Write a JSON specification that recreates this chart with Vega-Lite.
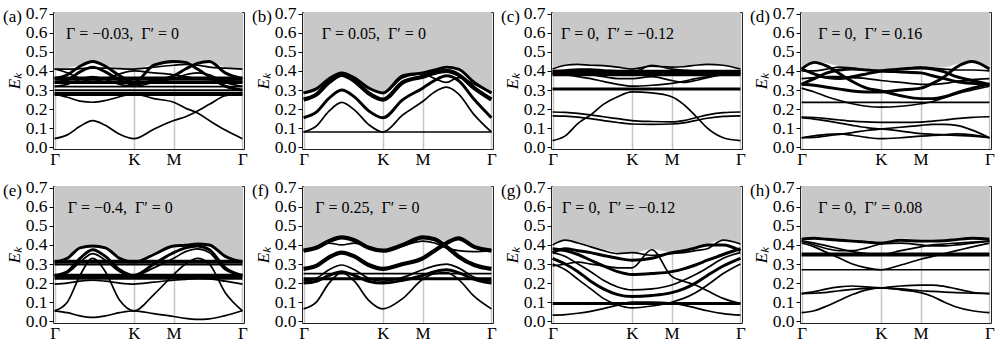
{
"$schema":"https://vega.github.io/schema/vega-lite/v6.json",
"padding":{"left":2,"top":4,"right":0,"bottom":0},
"bounds":"flush",
"spacing":{"column":58,"row":37},
"columns":4,
"data":{"values":[
{"p":"a","b":0,"x":0,"y":0.41},{"p":"a","b":0,"x":0.16,"y":0.415},{"p":"a","b":0,"x":0.32,"y":0.43},{"p":"a","b":0,"x":0.48,"y":0.45},{"p":"a","b":0,"x":0.64,"y":0.43},{"p":"a","b":0,"x":0.82,"y":0.415},{"p":"a","b":0,"x":1,"y":0.41},{"p":"a","b":0,"x":1.25,"y":0.435},{"p":"a","b":0,"x":1.5,"y":0.45},{"p":"a","b":0,"x":1.65,"y":0.445},{"p":"a","b":0,"x":1.8,"y":0.44},{"p":"a","b":0,"x":1.95,"y":0.45},{"p":"a","b":0,"x":2.15,"y":0.42},{"p":"a","b":0,"x":2.366,"y":0.41},
{"p":"a","b":1,"n":1,"x":0,"y":0.045},{"p":"a","b":1,"n":1,"x":0.16,"y":0.065},{"p":"a","b":1,"n":1,"x":0.32,"y":0.11},{"p":"a","b":1,"n":1,"x":0.48,"y":0.14},{"p":"a","b":1,"n":1,"x":0.64,"y":0.115},{"p":"a","b":1,"n":1,"x":0.82,"y":0.068},{"p":"a","b":1,"n":1,"x":1,"y":0.045},{"p":"a","b":1,"n":1,"x":1.25,"y":0.095},{"p":"a","b":1,"n":1,"x":1.5,"y":0.14},{"p":"a","b":1,"n":1,"x":1.65,"y":0.16},{"p":"a","b":1,"n":1,"x":1.8,"y":0.19},{"p":"a","b":1,"n":1,"x":1.95,"y":0.225},{"p":"a","b":1,"n":1,"x":2.15,"y":0.27},{"p":"a","b":1,"n":1,"x":2.366,"y":0.28},
{"p":"a","b":2,"n":1,"x":0,"y":0.28},{"p":"a","b":2,"n":1,"x":0.16,"y":0.262},{"p":"a","b":2,"n":1,"x":0.32,"y":0.242},{"p":"a","b":2,"n":1,"x":0.48,"y":0.236},{"p":"a","b":2,"n":1,"x":0.64,"y":0.245},{"p":"a","b":2,"n":1,"x":0.82,"y":0.265},{"p":"a","b":2,"n":1,"x":1,"y":0.28},{"p":"a","b":2,"n":1,"x":1.25,"y":0.255},{"p":"a","b":2,"n":1,"x":1.5,"y":0.236},{"p":"a","b":2,"n":1,"x":1.65,"y":0.205},{"p":"a","b":2,"n":1,"x":1.8,"y":0.18},{"p":"a","b":2,"n":1,"x":1.95,"y":0.14},{"p":"a","b":2,"n":1,"x":2.15,"y":0.09},{"p":"a","b":2,"n":1,"x":2.366,"y":0.045},
{"p":"a","b":3,"n":3,"x":0,"y":0.28},{"p":"a","b":3,"n":3,"x":2.366,"y":0.28},
{"p":"a","b":4,"n":1,"x":0,"y":0.3},{"p":"a","b":4,"n":1,"x":2.366,"y":0.3},
{"p":"a","b":5,"n":1,"x":0,"y":0.318},{"p":"a","b":5,"n":1,"x":2.366,"y":0.318},
{"p":"a","b":6,"n":2,"x":0,"y":0.34},{"p":"a","b":6,"n":2,"x":2.366,"y":0.34},
{"p":"a","b":7,"n":3,"x":0,"y":0.36},{"p":"a","b":7,"n":3,"x":2.366,"y":0.36},
{"p":"a","b":8,"n":1,"x":0,"y":0.41},{"p":"a","b":8,"n":1,"x":0.16,"y":0.41},{"p":"a","b":8,"n":1,"x":0.32,"y":0.412},{"p":"a","b":8,"n":1,"x":0.48,"y":0.415},{"p":"a","b":8,"n":1,"x":0.64,"y":0.415},{"p":"a","b":8,"n":1,"x":0.82,"y":0.412},{"p":"a","b":8,"n":1,"x":1,"y":0.41},{"p":"a","b":8,"n":1,"x":1.25,"y":0.42},{"p":"a","b":8,"n":1,"x":1.5,"y":0.43},{"p":"a","b":8,"n":1,"x":1.65,"y":0.435},{"p":"a","b":8,"n":1,"x":1.8,"y":0.43},{"p":"a","b":8,"n":1,"x":1.95,"y":0.42},{"p":"a","b":8,"n":1,"x":2.15,"y":0.415},{"p":"a","b":8,"n":1,"x":2.366,"y":0.41},
{"p":"a","b":9,"n":2,"x":0,"y":0.36},{"p":"a","b":9,"n":2,"x":0.16,"y":0.38},{"p":"a","b":9,"n":2,"x":0.32,"y":0.425},{"p":"a","b":9,"n":2,"x":0.48,"y":0.45},{"p":"a","b":9,"n":2,"x":0.64,"y":0.425},{"p":"a","b":9,"n":2,"x":0.82,"y":0.375},{"p":"a","b":9,"n":2,"x":1,"y":0.34},{"p":"a","b":9,"n":2,"x":1.25,"y":0.43},{"p":"a","b":9,"n":2,"x":1.5,"y":0.45},{"p":"a","b":9,"n":2,"x":1.65,"y":0.445},{"p":"a","b":9,"n":2,"x":1.8,"y":0.41},{"p":"a","b":9,"n":2,"x":1.95,"y":0.37},{"p":"a","b":9,"n":2,"x":2.15,"y":0.32},{"p":"a","b":9,"n":2,"x":2.366,"y":0.3},
{"p":"a","b":10,"n":2,"x":0,"y":0.34},{"p":"a","b":10,"n":2,"x":0.16,"y":0.352},{"p":"a","b":10,"n":2,"x":0.32,"y":0.395},{"p":"a","b":10,"n":2,"x":0.48,"y":0.42},{"p":"a","b":10,"n":2,"x":0.64,"y":0.395},{"p":"a","b":10,"n":2,"x":0.82,"y":0.352},{"p":"a","b":10,"n":2,"x":1,"y":0.33},{"p":"a","b":10,"n":2,"x":1.25,"y":0.35},{"p":"a","b":10,"n":2,"x":1.5,"y":0.375},{"p":"a","b":10,"n":2,"x":1.65,"y":0.41},{"p":"a","b":10,"n":2,"x":1.8,"y":0.44},{"p":"a","b":10,"n":2,"x":1.95,"y":0.45},{"p":"a","b":10,"n":2,"x":2.15,"y":0.39},{"p":"a","b":10,"n":2,"x":2.366,"y":0.36},
{"p":"a","b":11,"n":1,"x":0,"y":0.41},{"p":"a","b":11,"n":1,"x":0.16,"y":0.39},{"p":"a","b":11,"n":1,"x":0.32,"y":0.36},{"p":"a","b":11,"n":1,"x":0.48,"y":0.345},{"p":"a","b":11,"n":1,"x":0.64,"y":0.36},{"p":"a","b":11,"n":1,"x":0.82,"y":0.385},{"p":"a","b":11,"n":1,"x":1,"y":0.4},{"p":"a","b":11,"n":1,"x":1.25,"y":0.39},{"p":"a","b":11,"n":1,"x":1.5,"y":0.38},{"p":"a","b":11,"n":1,"x":1.65,"y":0.37},{"p":"a","b":11,"n":1,"x":1.8,"y":0.36},{"p":"a","b":11,"n":1,"x":1.95,"y":0.355},{"p":"a","b":11,"n":1,"x":2.15,"y":0.35},{"p":"a","b":11,"n":1,"x":2.366,"y":0.345},
{"p":"a","b":12,"n":1,"x":0,"y":0.32},{"p":"a","b":12,"n":1,"x":0.16,"y":0.33},{"p":"a","b":12,"n":1,"x":0.32,"y":0.355},{"p":"a","b":12,"n":1,"x":0.48,"y":0.37},{"p":"a","b":12,"n":1,"x":0.64,"y":0.355},{"p":"a","b":12,"n":1,"x":0.82,"y":0.33},{"p":"a","b":12,"n":1,"x":1,"y":0.32},{"p":"a","b":12,"n":1,"x":1.25,"y":0.34},{"p":"a","b":12,"n":1,"x":1.5,"y":0.36},{"p":"a","b":12,"n":1,"x":1.65,"y":0.38},{"p":"a","b":12,"n":1,"x":1.8,"y":0.39},{"p":"a","b":12,"n":1,"x":1.95,"y":0.38},{"p":"a","b":12,"n":1,"x":2.15,"y":0.34},{"p":"a","b":12,"n":1,"x":2.366,"y":0.32},

{"p":"b","b":0,"x":0,"y":0.29},{"p":"b","b":0,"x":0.16,"y":0.31},{"p":"b","b":0,"x":0.32,"y":0.362},{"p":"b","b":0,"x":0.48,"y":0.393},{"p":"b","b":0,"x":0.64,"y":0.366},{"p":"b","b":0,"x":0.82,"y":0.315},{"p":"b","b":0,"x":1,"y":0.29},{"p":"b","b":0,"x":1.25,"y":0.38},{"p":"b","b":0,"x":1.5,"y":0.395},{"p":"b","b":0,"x":1.65,"y":0.41},{"p":"b","b":0,"x":1.8,"y":0.425},{"p":"b","b":0,"x":1.95,"y":0.415},{"p":"b","b":0,"x":2.15,"y":0.345},{"p":"b","b":0,"x":2.366,"y":0.29},
{"p":"b","b":1,"n":1,"x":0,"y":0.08},{"p":"b","b":1,"n":1,"x":2.366,"y":0.08},
{"p":"b","b":2,"n":1,"x":0,"y":0.08},{"p":"b","b":2,"n":1,"x":0.16,"y":0.111},{"p":"b","b":2,"n":1,"x":0.32,"y":0.189},{"p":"b","b":2,"n":1,"x":0.48,"y":0.235},{"p":"b","b":2,"n":1,"x":0.64,"y":0.196},{"p":"b","b":2,"n":1,"x":0.82,"y":0.119},{"p":"b","b":2,"n":1,"x":1,"y":0.08},{"p":"b","b":2,"n":1,"x":1.25,"y":0.17},{"p":"b","b":2,"n":1,"x":1.5,"y":0.24},{"p":"b","b":2,"n":1,"x":1.65,"y":0.29},{"p":"b","b":2,"n":1,"x":1.8,"y":0.315},{"p":"b","b":2,"n":1,"x":1.95,"y":0.28},{"p":"b","b":2,"n":1,"x":2.15,"y":0.17},{"p":"b","b":2,"n":1,"x":2.366,"y":0.08},
{"p":"b","b":3,"n":2,"x":0,"y":0.155},{"p":"b","b":3,"n":2,"x":0.16,"y":0.184},{"p":"b","b":3,"n":2,"x":0.32,"y":0.257},{"p":"b","b":3,"n":2,"x":0.48,"y":0.3},{"p":"b","b":3,"n":2,"x":0.64,"y":0.264},{"p":"b","b":3,"n":2,"x":0.82,"y":0.191},{"p":"b","b":3,"n":2,"x":1,"y":0.155},{"p":"b","b":3,"n":2,"x":1.25,"y":0.25},{"p":"b","b":3,"n":2,"x":1.5,"y":0.31},{"p":"b","b":3,"n":2,"x":1.65,"y":0.35},{"p":"b","b":3,"n":2,"x":1.8,"y":0.375},{"p":"b","b":3,"n":2,"x":1.95,"y":0.35},{"p":"b","b":3,"n":2,"x":2.15,"y":0.25},{"p":"b","b":3,"n":2,"x":2.366,"y":0.155},
{"p":"b","b":4,"n":3,"x":0,"y":0.25},{"p":"b","b":4,"n":3,"x":0.16,"y":0.276},{"p":"b","b":4,"n":3,"x":0.32,"y":0.341},{"p":"b","b":4,"n":3,"x":0.48,"y":0.38},{"p":"b","b":4,"n":3,"x":0.64,"y":0.348},{"p":"b","b":4,"n":3,"x":0.82,"y":0.283},{"p":"b","b":4,"n":3,"x":1,"y":0.25},{"p":"b","b":4,"n":3,"x":1.25,"y":0.34},{"p":"b","b":4,"n":3,"x":1.5,"y":0.37},{"p":"b","b":4,"n":3,"x":1.65,"y":0.39},{"p":"b","b":4,"n":3,"x":1.8,"y":0.4},{"p":"b","b":4,"n":3,"x":1.95,"y":0.38},{"p":"b","b":4,"n":3,"x":2.15,"y":0.31},{"p":"b","b":4,"n":3,"x":2.366,"y":0.25},
{"p":"b","b":5,"n":2,"x":0,"y":0.285},{"p":"b","b":5,"n":2,"x":0.16,"y":0.306},{"p":"b","b":5,"n":2,"x":0.32,"y":0.359},{"p":"b","b":5,"n":2,"x":0.48,"y":0.39},{"p":"b","b":5,"n":2,"x":0.64,"y":0.364},{"p":"b","b":5,"n":2,"x":0.82,"y":0.311},{"p":"b","b":5,"n":2,"x":1,"y":0.285},{"p":"b","b":5,"n":2,"x":1.25,"y":0.375},{"p":"b","b":5,"n":2,"x":1.5,"y":0.39},{"p":"b","b":5,"n":2,"x":1.65,"y":0.405},{"p":"b","b":5,"n":2,"x":1.8,"y":0.42},{"p":"b","b":5,"n":2,"x":1.95,"y":0.41},{"p":"b","b":5,"n":2,"x":2.15,"y":0.34},{"p":"b","b":5,"n":2,"x":2.366,"y":0.285},
{"p":"b","b":6,"n":1,"x":0,"y":0.285},{"p":"b","b":6,"n":1,"x":0.16,"y":0.306},{"p":"b","b":6,"n":1,"x":0.32,"y":0.359},{"p":"b","b":6,"n":1,"x":0.48,"y":0.39},{"p":"b","b":6,"n":1,"x":0.64,"y":0.364},{"p":"b","b":6,"n":1,"x":0.82,"y":0.311},{"p":"b","b":6,"n":1,"x":1,"y":0.285},{"p":"b","b":6,"n":1,"x":1.25,"y":0.365},{"p":"b","b":6,"n":1,"x":1.5,"y":0.385},{"p":"b","b":6,"n":1,"x":1.65,"y":0.36},{"p":"b","b":6,"n":1,"x":1.8,"y":0.34},{"p":"b","b":6,"n":1,"x":1.95,"y":0.365},{"p":"b","b":6,"n":1,"x":2.15,"y":0.33},{"p":"b","b":6,"n":1,"x":2.366,"y":0.285},

{"p":"c","b":0,"x":0,"y":0.41},{"p":"c","b":0,"x":0.16,"y":0.432},{"p":"c","b":0,"x":0.32,"y":0.438},{"p":"c","b":0,"x":0.48,"y":0.433},{"p":"c","b":0,"x":0.64,"y":0.43},{"p":"c","b":0,"x":0.82,"y":0.42},{"p":"c","b":0,"x":1,"y":0.41},{"p":"c","b":0,"x":1.25,"y":0.432},{"p":"c","b":0,"x":1.5,"y":0.425},{"p":"c","b":0,"x":1.65,"y":0.425},{"p":"c","b":0,"x":1.8,"y":0.432},{"p":"c","b":0,"x":1.95,"y":0.437},{"p":"c","b":0,"x":2.15,"y":0.432},{"p":"c","b":0,"x":2.366,"y":0.41},
{"p":"c","b":1,"n":1,"x":0,"y":0.035},{"p":"c","b":1,"n":1,"x":0.16,"y":0.06},{"p":"c","b":1,"n":1,"x":0.32,"y":0.125},{"p":"c","b":1,"n":1,"x":0.48,"y":0.17},{"p":"c","b":1,"n":1,"x":0.64,"y":0.225},{"p":"c","b":1,"n":1,"x":0.82,"y":0.265},{"p":"c","b":1,"n":1,"x":1,"y":0.29},{"p":"c","b":1,"n":1,"x":1.25,"y":0.285},{"p":"c","b":1,"n":1,"x":1.5,"y":0.265},{"p":"c","b":1,"n":1,"x":1.65,"y":0.225},{"p":"c","b":1,"n":1,"x":1.8,"y":0.165},{"p":"c","b":1,"n":1,"x":1.95,"y":0.1},{"p":"c","b":1,"n":1,"x":2.15,"y":0.05},{"p":"c","b":1,"n":1,"x":2.366,"y":0.035},
{"p":"c","b":2,"n":1,"x":0,"y":0.185},{"p":"c","b":2,"n":1,"x":0.16,"y":0.183},{"p":"c","b":2,"n":1,"x":0.32,"y":0.178},{"p":"c","b":2,"n":1,"x":0.48,"y":0.17},{"p":"c","b":2,"n":1,"x":0.64,"y":0.16},{"p":"c","b":2,"n":1,"x":0.82,"y":0.15},{"p":"c","b":2,"n":1,"x":1,"y":0.14},{"p":"c","b":2,"n":1,"x":1.25,"y":0.135},{"p":"c","b":2,"n":1,"x":1.5,"y":0.133},{"p":"c","b":2,"n":1,"x":1.65,"y":0.14},{"p":"c","b":2,"n":1,"x":1.8,"y":0.155},{"p":"c","b":2,"n":1,"x":1.95,"y":0.17},{"p":"c","b":2,"n":1,"x":2.15,"y":0.182},{"p":"c","b":2,"n":1,"x":2.366,"y":0.185},
{"p":"c","b":3,"n":1,"x":0,"y":0.165},{"p":"c","b":3,"n":1,"x":0.16,"y":0.163},{"p":"c","b":3,"n":1,"x":0.32,"y":0.158},{"p":"c","b":3,"n":1,"x":0.48,"y":0.15},{"p":"c","b":3,"n":1,"x":0.64,"y":0.14},{"p":"c","b":3,"n":1,"x":0.82,"y":0.13},{"p":"c","b":3,"n":1,"x":1,"y":0.122},{"p":"c","b":3,"n":1,"x":1.25,"y":0.12},{"p":"c","b":3,"n":1,"x":1.5,"y":0.122},{"p":"c","b":3,"n":1,"x":1.65,"y":0.128},{"p":"c","b":3,"n":1,"x":1.8,"y":0.14},{"p":"c","b":3,"n":1,"x":1.95,"y":0.152},{"p":"c","b":3,"n":1,"x":2.15,"y":0.162},{"p":"c","b":3,"n":1,"x":2.366,"y":0.165},
{"p":"c","b":4,"n":2,"x":0,"y":0.305},{"p":"c","b":4,"n":2,"x":2.366,"y":0.305},
{"p":"c","b":5,"n":1,"x":0,"y":0.41},{"p":"c","b":5,"n":1,"x":0.16,"y":0.43},{"p":"c","b":5,"n":1,"x":0.32,"y":0.435},{"p":"c","b":5,"n":1,"x":0.48,"y":0.43},{"p":"c","b":5,"n":1,"x":0.64,"y":0.428},{"p":"c","b":5,"n":1,"x":0.82,"y":0.42},{"p":"c","b":5,"n":1,"x":1,"y":0.41},{"p":"c","b":5,"n":1,"x":1.25,"y":0.425},{"p":"c","b":5,"n":1,"x":1.5,"y":0.42},{"p":"c","b":5,"n":1,"x":1.65,"y":0.422},{"p":"c","b":5,"n":1,"x":1.8,"y":0.43},{"p":"c","b":5,"n":1,"x":1.95,"y":0.435},{"p":"c","b":5,"n":1,"x":2.15,"y":0.43},{"p":"c","b":5,"n":1,"x":2.366,"y":0.41},
{"p":"c","b":6,"n":3,"x":0,"y":0.395},{"p":"c","b":6,"n":3,"x":2.366,"y":0.395},
{"p":"c","b":7,"n":2,"x":0,"y":0.38},{"p":"c","b":7,"n":2,"x":2.366,"y":0.38},
{"p":"c","b":8,"n":1,"x":0,"y":0.385},{"p":"c","b":8,"n":1,"x":0.16,"y":0.38},{"p":"c","b":8,"n":1,"x":0.32,"y":0.37},{"p":"c","b":8,"n":1,"x":0.48,"y":0.36},{"p":"c","b":8,"n":1,"x":0.64,"y":0.345},{"p":"c","b":8,"n":1,"x":0.82,"y":0.33},{"p":"c","b":8,"n":1,"x":1,"y":0.32},{"p":"c","b":8,"n":1,"x":1.25,"y":0.325},{"p":"c","b":8,"n":1,"x":1.5,"y":0.335},{"p":"c","b":8,"n":1,"x":1.65,"y":0.345},{"p":"c","b":8,"n":1,"x":1.8,"y":0.36},{"p":"c","b":8,"n":1,"x":1.95,"y":0.37},{"p":"c","b":8,"n":1,"x":2.15,"y":0.38},{"p":"c","b":8,"n":1,"x":2.366,"y":0.385},
{"p":"c","b":9,"n":1,"x":0,"y":0.39},{"p":"c","b":9,"n":1,"x":0.16,"y":0.39},{"p":"c","b":9,"n":1,"x":0.32,"y":0.385},{"p":"c","b":9,"n":1,"x":0.48,"y":0.38},{"p":"c","b":9,"n":1,"x":0.64,"y":0.37},{"p":"c","b":9,"n":1,"x":0.82,"y":0.36},{"p":"c","b":9,"n":1,"x":1,"y":0.36},{"p":"c","b":9,"n":1,"x":1.25,"y":0.37},{"p":"c","b":9,"n":1,"x":1.5,"y":0.35},{"p":"c","b":9,"n":1,"x":1.65,"y":0.34},{"p":"c","b":9,"n":1,"x":1.8,"y":0.35},{"p":"c","b":9,"n":1,"x":1.95,"y":0.365},{"p":"c","b":9,"n":1,"x":2.15,"y":0.38},{"p":"c","b":9,"n":1,"x":2.366,"y":0.39},
{"p":"c","b":10,"n":1,"x":0,"y":0.4},{"p":"c","b":10,"n":1,"x":0.16,"y":0.405},{"p":"c","b":10,"n":1,"x":0.32,"y":0.41},{"p":"c","b":10,"n":1,"x":0.48,"y":0.41},{"p":"c","b":10,"n":1,"x":0.64,"y":0.405},{"p":"c","b":10,"n":1,"x":0.82,"y":0.4},{"p":"c","b":10,"n":1,"x":1,"y":0.39},{"p":"c","b":10,"n":1,"x":1.25,"y":0.43},{"p":"c","b":10,"n":1,"x":1.5,"y":0.41},{"p":"c","b":10,"n":1,"x":1.65,"y":0.405},{"p":"c","b":10,"n":1,"x":1.8,"y":0.4},{"p":"c","b":10,"n":1,"x":1.95,"y":0.4},{"p":"c","b":10,"n":1,"x":2.15,"y":0.4},{"p":"c","b":10,"n":1,"x":2.366,"y":0.4},

{"p":"d","b":0,"x":0,"y":0.41},{"p":"d","b":0,"x":0.16,"y":0.445},{"p":"d","b":0,"x":0.32,"y":0.44},{"p":"d","b":0,"x":0.48,"y":0.425},{"p":"d","b":0,"x":0.64,"y":0.42},{"p":"d","b":0,"x":0.82,"y":0.41},{"p":"d","b":0,"x":1,"y":0.405},{"p":"d","b":0,"x":1.25,"y":0.415},{"p":"d","b":0,"x":1.5,"y":0.425},{"p":"d","b":0,"x":1.65,"y":0.42},{"p":"d","b":0,"x":1.8,"y":0.42},{"p":"d","b":0,"x":1.95,"y":0.435},{"p":"d","b":0,"x":2.15,"y":0.455},{"p":"d","b":0,"x":2.366,"y":0.41},
{"p":"d","b":1,"n":1,"x":0,"y":0.05},{"p":"d","b":1,"n":1,"x":0.16,"y":0.06},{"p":"d","b":1,"n":1,"x":0.32,"y":0.068},{"p":"d","b":1,"n":1,"x":0.48,"y":0.07},{"p":"d","b":1,"n":1,"x":0.64,"y":0.063},{"p":"d","b":1,"n":1,"x":0.82,"y":0.052},{"p":"d","b":1,"n":1,"x":1,"y":0.045},{"p":"d","b":1,"n":1,"x":1.25,"y":0.05},{"p":"d","b":1,"n":1,"x":1.5,"y":0.058},{"p":"d","b":1,"n":1,"x":1.65,"y":0.062},{"p":"d","b":1,"n":1,"x":1.8,"y":0.066},{"p":"d","b":1,"n":1,"x":1.95,"y":0.07},{"p":"d","b":1,"n":1,"x":2.15,"y":0.065},{"p":"d","b":1,"n":1,"x":2.366,"y":0.05},
{"p":"d","b":2,"n":1,"x":0,"y":0.05},{"p":"d","b":2,"n":1,"x":0.16,"y":0.052},{"p":"d","b":2,"n":1,"x":0.32,"y":0.06},{"p":"d","b":2,"n":1,"x":0.48,"y":0.068},{"p":"d","b":2,"n":1,"x":0.64,"y":0.077},{"p":"d","b":2,"n":1,"x":0.82,"y":0.088},{"p":"d","b":2,"n":1,"x":1,"y":0.096},{"p":"d","b":2,"n":1,"x":1.25,"y":0.105},{"p":"d","b":2,"n":1,"x":1.5,"y":0.115},{"p":"d","b":2,"n":1,"x":1.65,"y":0.12},{"p":"d","b":2,"n":1,"x":1.8,"y":0.12},{"p":"d","b":2,"n":1,"x":1.95,"y":0.115},{"p":"d","b":2,"n":1,"x":2.15,"y":0.09},{"p":"d","b":2,"n":1,"x":2.366,"y":0.05},
{"p":"d","b":3,"n":1,"x":0,"y":0.155},{"p":"d","b":3,"n":1,"x":0.16,"y":0.148},{"p":"d","b":3,"n":1,"x":0.32,"y":0.138},{"p":"d","b":3,"n":1,"x":0.48,"y":0.127},{"p":"d","b":3,"n":1,"x":0.64,"y":0.115},{"p":"d","b":3,"n":1,"x":0.82,"y":0.103},{"p":"d","b":3,"n":1,"x":1,"y":0.096},{"p":"d","b":3,"n":1,"x":1.25,"y":0.085},{"p":"d","b":3,"n":1,"x":1.5,"y":0.072},{"p":"d","b":3,"n":1,"x":1.65,"y":0.068},{"p":"d","b":3,"n":1,"x":1.8,"y":0.065},{"p":"d","b":3,"n":1,"x":1.95,"y":0.062},{"p":"d","b":3,"n":1,"x":2.15,"y":0.058},{"p":"d","b":3,"n":1,"x":2.366,"y":0.05},
{"p":"d","b":4,"n":1,"x":0,"y":0.158},{"p":"d","b":4,"n":1,"x":0.16,"y":0.156},{"p":"d","b":4,"n":1,"x":0.32,"y":0.15},{"p":"d","b":4,"n":1,"x":0.48,"y":0.143},{"p":"d","b":4,"n":1,"x":0.64,"y":0.137},{"p":"d","b":4,"n":1,"x":0.82,"y":0.133},{"p":"d","b":4,"n":1,"x":1,"y":0.131},{"p":"d","b":4,"n":1,"x":1.25,"y":0.131},{"p":"d","b":4,"n":1,"x":1.5,"y":0.132},{"p":"d","b":4,"n":1,"x":1.65,"y":0.137},{"p":"d","b":4,"n":1,"x":1.8,"y":0.143},{"p":"d","b":4,"n":1,"x":1.95,"y":0.15},{"p":"d","b":4,"n":1,"x":2.15,"y":0.157},{"p":"d","b":4,"n":1,"x":2.366,"y":0.16},
{"p":"d","b":5,"n":1,"x":0,"y":0.235},{"p":"d","b":5,"n":1,"x":2.366,"y":0.235},
{"p":"d","b":6,"n":1,"x":0,"y":0.31},{"p":"d","b":6,"n":1,"x":0.16,"y":0.29},{"p":"d","b":6,"n":1,"x":0.32,"y":0.265},{"p":"d","b":6,"n":1,"x":0.48,"y":0.245},{"p":"d","b":6,"n":1,"x":0.64,"y":0.228},{"p":"d","b":6,"n":1,"x":0.82,"y":0.215},{"p":"d","b":6,"n":1,"x":1,"y":0.21},{"p":"d","b":6,"n":1,"x":1.25,"y":0.215},{"p":"d","b":6,"n":1,"x":1.5,"y":0.228},{"p":"d","b":6,"n":1,"x":1.65,"y":0.24},{"p":"d","b":6,"n":1,"x":1.8,"y":0.26},{"p":"d","b":6,"n":1,"x":1.95,"y":0.28},{"p":"d","b":6,"n":1,"x":2.15,"y":0.3},{"p":"d","b":6,"n":1,"x":2.366,"y":0.32},
{"p":"d","b":7,"n":2,"x":0,"y":0.41},{"p":"d","b":7,"n":2,"x":0.16,"y":0.445},{"p":"d","b":7,"n":2,"x":0.32,"y":0.425},{"p":"d","b":7,"n":2,"x":0.48,"y":0.385},{"p":"d","b":7,"n":2,"x":0.64,"y":0.345},{"p":"d","b":7,"n":2,"x":0.82,"y":0.31},{"p":"d","b":7,"n":2,"x":1,"y":0.295},{"p":"d","b":7,"n":2,"x":1.25,"y":0.27},{"p":"d","b":7,"n":2,"x":1.5,"y":0.255},{"p":"d","b":7,"n":2,"x":1.65,"y":0.255},{"p":"d","b":7,"n":2,"x":1.8,"y":0.265},{"p":"d","b":7,"n":2,"x":1.95,"y":0.285},{"p":"d","b":7,"n":2,"x":2.15,"y":0.31},{"p":"d","b":7,"n":2,"x":2.366,"y":0.33},
{"p":"d","b":8,"n":2,"x":0,"y":0.33},{"p":"d","b":8,"n":2,"x":0.16,"y":0.325},{"p":"d","b":8,"n":2,"x":0.32,"y":0.315},{"p":"d","b":8,"n":2,"x":0.48,"y":0.305},{"p":"d","b":8,"n":2,"x":0.64,"y":0.295},{"p":"d","b":8,"n":2,"x":0.82,"y":0.29},{"p":"d","b":8,"n":2,"x":1,"y":0.29},{"p":"d","b":8,"n":2,"x":1.25,"y":0.3},{"p":"d","b":8,"n":2,"x":1.5,"y":0.31},{"p":"d","b":8,"n":2,"x":1.65,"y":0.335},{"p":"d","b":8,"n":2,"x":1.8,"y":0.37},{"p":"d","b":8,"n":2,"x":1.95,"y":0.42},{"p":"d","b":8,"n":2,"x":2.15,"y":0.45},{"p":"d","b":8,"n":2,"x":2.366,"y":0.41},
{"p":"d","b":9,"n":2,"x":0,"y":0.33},{"p":"d","b":9,"n":2,"x":0.16,"y":0.36},{"p":"d","b":9,"n":2,"x":0.32,"y":0.39},{"p":"d","b":9,"n":2,"x":0.48,"y":0.405},{"p":"d","b":9,"n":2,"x":0.64,"y":0.41},{"p":"d","b":9,"n":2,"x":0.82,"y":0.405},{"p":"d","b":9,"n":2,"x":1,"y":0.4},{"p":"d","b":9,"n":2,"x":1.25,"y":0.395},{"p":"d","b":9,"n":2,"x":1.5,"y":0.39},{"p":"d","b":9,"n":2,"x":1.65,"y":0.375},{"p":"d","b":9,"n":2,"x":1.8,"y":0.36},{"p":"d","b":9,"n":2,"x":1.95,"y":0.345},{"p":"d","b":9,"n":2,"x":2.15,"y":0.335},{"p":"d","b":9,"n":2,"x":2.366,"y":0.33},
{"p":"d","b":10,"n":2,"x":0,"y":0.41},{"p":"d","b":10,"n":2,"x":0.16,"y":0.385},{"p":"d","b":10,"n":2,"x":0.32,"y":0.365},{"p":"d","b":10,"n":2,"x":0.48,"y":0.36},{"p":"d","b":10,"n":2,"x":0.64,"y":0.37},{"p":"d","b":10,"n":2,"x":0.82,"y":0.385},{"p":"d","b":10,"n":2,"x":1,"y":0.4},{"p":"d","b":10,"n":2,"x":1.25,"y":0.41},{"p":"d","b":10,"n":2,"x":1.5,"y":0.415},{"p":"d","b":10,"n":2,"x":1.65,"y":0.41},{"p":"d","b":10,"n":2,"x":1.8,"y":0.395},{"p":"d","b":10,"n":2,"x":1.95,"y":0.37},{"p":"d","b":10,"n":2,"x":2.15,"y":0.35},{"p":"d","b":10,"n":2,"x":2.366,"y":0.33},
{"p":"d","b":11,"n":1,"x":0,"y":0.36},{"p":"d","b":11,"n":1,"x":0.16,"y":0.365},{"p":"d","b":11,"n":1,"x":0.32,"y":0.37},{"p":"d","b":11,"n":1,"x":0.48,"y":0.37},{"p":"d","b":11,"n":1,"x":0.64,"y":0.365},{"p":"d","b":11,"n":1,"x":0.82,"y":0.36},{"p":"d","b":11,"n":1,"x":1,"y":0.35},{"p":"d","b":11,"n":1,"x":1.25,"y":0.34},{"p":"d","b":11,"n":1,"x":1.5,"y":0.33},{"p":"d","b":11,"n":1,"x":1.65,"y":0.33},{"p":"d","b":11,"n":1,"x":1.8,"y":0.335},{"p":"d","b":11,"n":1,"x":1.95,"y":0.345},{"p":"d","b":11,"n":1,"x":2.15,"y":0.355},{"p":"d","b":11,"n":1,"x":2.366,"y":0.36},
{"p":"d","b":12,"n":1,"x":0,"y":0.4},{"p":"d","b":12,"n":1,"x":0.16,"y":0.4},{"p":"d","b":12,"n":1,"x":0.32,"y":0.41},{"p":"d","b":12,"n":1,"x":0.48,"y":0.42},{"p":"d","b":12,"n":1,"x":0.64,"y":0.415},{"p":"d","b":12,"n":1,"x":0.82,"y":0.405},{"p":"d","b":12,"n":1,"x":1,"y":0.4},{"p":"d","b":12,"n":1,"x":1.25,"y":0.41},{"p":"d","b":12,"n":1,"x":1.5,"y":0.42},{"p":"d","b":12,"n":1,"x":1.65,"y":0.415},{"p":"d","b":12,"n":1,"x":1.8,"y":0.41},{"p":"d","b":12,"n":1,"x":1.95,"y":0.405},{"p":"d","b":12,"n":1,"x":2.15,"y":0.405},{"p":"d","b":12,"n":1,"x":2.366,"y":0.4},

{"p":"e","b":0,"x":0,"y":0.315},{"p":"e","b":0,"x":0.16,"y":0.34},{"p":"e","b":0,"x":0.32,"y":0.39},{"p":"e","b":0,"x":0.48,"y":0.4},{"p":"e","b":0,"x":0.64,"y":0.39},{"p":"e","b":0,"x":0.82,"y":0.34},{"p":"e","b":0,"x":1,"y":0.315},{"p":"e","b":0,"x":1.25,"y":0.36},{"p":"e","b":0,"x":1.5,"y":0.4},{"p":"e","b":0,"x":1.65,"y":0.403},{"p":"e","b":0,"x":1.8,"y":0.408},{"p":"e","b":0,"x":1.95,"y":0.403},{"p":"e","b":0,"x":2.15,"y":0.345},{"p":"e","b":0,"x":2.366,"y":0.315},
{"p":"e","b":1,"n":1,"x":0,"y":0.055},{"p":"e","b":1,"n":1,"x":0.16,"y":0.045},{"p":"e","b":1,"n":1,"x":0.32,"y":0.028},{"p":"e","b":1,"n":1,"x":0.48,"y":0.02},{"p":"e","b":1,"n":1,"x":0.64,"y":0.028},{"p":"e","b":1,"n":1,"x":0.82,"y":0.045},{"p":"e","b":1,"n":1,"x":1,"y":0.055},{"p":"e","b":1,"n":1,"x":1.25,"y":0.04},{"p":"e","b":1,"n":1,"x":1.5,"y":0.025},{"p":"e","b":1,"n":1,"x":1.65,"y":0.015},{"p":"e","b":1,"n":1,"x":1.8,"y":0.01},{"p":"e","b":1,"n":1,"x":1.95,"y":0.013},{"p":"e","b":1,"n":1,"x":2.15,"y":0.03},{"p":"e","b":1,"n":1,"x":2.366,"y":0.055},
{"p":"e","b":2,"n":1,"x":0,"y":0.055},{"p":"e","b":2,"n":1,"x":0.16,"y":0.1},{"p":"e","b":2,"n":1,"x":0.32,"y":0.24},{"p":"e","b":2,"n":1,"x":0.48,"y":0.33},{"p":"e","b":2,"n":1,"x":0.64,"y":0.26},{"p":"e","b":2,"n":1,"x":0.82,"y":0.11},{"p":"e","b":2,"n":1,"x":1,"y":0.055},{"p":"e","b":2,"n":1,"x":1.25,"y":0.14},{"p":"e","b":2,"n":1,"x":1.5,"y":0.245},{"p":"e","b":2,"n":1,"x":1.65,"y":0.3},{"p":"e","b":2,"n":1,"x":1.8,"y":0.33},{"p":"e","b":2,"n":1,"x":1.95,"y":0.3},{"p":"e","b":2,"n":1,"x":2.15,"y":0.15},{"p":"e","b":2,"n":1,"x":2.366,"y":0.055},
{"p":"e","b":3,"n":1,"x":0,"y":0.195},{"p":"e","b":3,"n":1,"x":0.16,"y":0.2},{"p":"e","b":3,"n":1,"x":0.32,"y":0.21},{"p":"e","b":3,"n":1,"x":0.48,"y":0.215},{"p":"e","b":3,"n":1,"x":0.64,"y":0.21},{"p":"e","b":3,"n":1,"x":0.82,"y":0.2},{"p":"e","b":3,"n":1,"x":1,"y":0.195},{"p":"e","b":3,"n":1,"x":1.25,"y":0.205},{"p":"e","b":3,"n":1,"x":1.5,"y":0.215},{"p":"e","b":3,"n":1,"x":1.65,"y":0.22},{"p":"e","b":3,"n":1,"x":1.8,"y":0.225},{"p":"e","b":3,"n":1,"x":1.95,"y":0.222},{"p":"e","b":3,"n":1,"x":2.15,"y":0.21},{"p":"e","b":3,"n":1,"x":2.366,"y":0.195},
{"p":"e","b":4,"n":1,"x":0,"y":0.222},{"p":"e","b":4,"n":1,"x":2.366,"y":0.222},
{"p":"e","b":5,"n":3,"x":0,"y":0.238},{"p":"e","b":5,"n":3,"x":2.366,"y":0.238},
{"p":"e","b":6,"n":3,"x":0,"y":0.312},{"p":"e","b":6,"n":3,"x":2.366,"y":0.312},
{"p":"e","b":7,"n":1,"x":0,"y":0.297},{"p":"e","b":7,"n":1,"x":2.366,"y":0.297},
{"p":"e","b":8,"n":2,"x":0,"y":0.31},{"p":"e","b":8,"n":2,"x":0.16,"y":0.33},{"p":"e","b":8,"n":2,"x":0.32,"y":0.385},{"p":"e","b":8,"n":2,"x":0.48,"y":0.395},{"p":"e","b":8,"n":2,"x":0.64,"y":0.385},{"p":"e","b":8,"n":2,"x":0.82,"y":0.33},{"p":"e","b":8,"n":2,"x":1,"y":0.31},{"p":"e","b":8,"n":2,"x":1.25,"y":0.35},{"p":"e","b":8,"n":2,"x":1.5,"y":0.395},{"p":"e","b":8,"n":2,"x":1.65,"y":0.398},{"p":"e","b":8,"n":2,"x":1.8,"y":0.405},{"p":"e","b":8,"n":2,"x":1.95,"y":0.4},{"p":"e","b":8,"n":2,"x":2.15,"y":0.34},{"p":"e","b":8,"n":2,"x":2.366,"y":0.31},
{"p":"e","b":9,"n":2,"x":0,"y":0.24},{"p":"e","b":9,"n":2,"x":0.16,"y":0.26},{"p":"e","b":9,"n":2,"x":0.32,"y":0.33},{"p":"e","b":9,"n":2,"x":0.48,"y":0.375},{"p":"e","b":9,"n":2,"x":0.64,"y":0.34},{"p":"e","b":9,"n":2,"x":0.82,"y":0.27},{"p":"e","b":9,"n":2,"x":1,"y":0.24},{"p":"e","b":9,"n":2,"x":1.25,"y":0.3},{"p":"e","b":9,"n":2,"x":1.5,"y":0.36},{"p":"e","b":9,"n":2,"x":1.65,"y":0.385},{"p":"e","b":9,"n":2,"x":1.8,"y":0.395},{"p":"e","b":9,"n":2,"x":1.95,"y":0.375},{"p":"e","b":9,"n":2,"x":2.15,"y":0.28},{"p":"e","b":9,"n":2,"x":2.366,"y":0.24},
{"p":"e","b":10,"n":1,"x":0,"y":0.24},{"p":"e","b":10,"n":1,"x":0.16,"y":0.255},{"p":"e","b":10,"n":1,"x":0.32,"y":0.31},{"p":"e","b":10,"n":1,"x":0.48,"y":0.355},{"p":"e","b":10,"n":1,"x":0.64,"y":0.32},{"p":"e","b":10,"n":1,"x":0.82,"y":0.26},{"p":"e","b":10,"n":1,"x":1,"y":0.24},{"p":"e","b":10,"n":1,"x":1.25,"y":0.28},{"p":"e","b":10,"n":1,"x":1.5,"y":0.33},{"p":"e","b":10,"n":1,"x":1.65,"y":0.365},{"p":"e","b":10,"n":1,"x":1.8,"y":0.38},{"p":"e","b":10,"n":1,"x":1.95,"y":0.36},{"p":"e","b":10,"n":1,"x":2.15,"y":0.27},{"p":"e","b":10,"n":1,"x":2.366,"y":0.24},

{"p":"f","b":0,"x":0,"y":0.37},{"p":"f","b":0,"x":0.16,"y":0.39},{"p":"f","b":0,"x":0.32,"y":0.425},{"p":"f","b":0,"x":0.48,"y":0.445},{"p":"f","b":0,"x":0.64,"y":0.43},{"p":"f","b":0,"x":0.82,"y":0.39},{"p":"f","b":0,"x":1,"y":0.37},{"p":"f","b":0,"x":1.25,"y":0.405},{"p":"f","b":0,"x":1.5,"y":0.445},{"p":"f","b":0,"x":1.65,"y":0.435},{"p":"f","b":0,"x":1.8,"y":0.42},{"p":"f","b":0,"x":1.95,"y":0.44},{"p":"f","b":0,"x":2.15,"y":0.4},{"p":"f","b":0,"x":2.366,"y":0.37},
{"p":"f","b":1,"n":1,"x":0,"y":0.065},{"p":"f","b":1,"n":1,"x":0.16,"y":0.1},{"p":"f","b":1,"n":1,"x":0.32,"y":0.2},{"p":"f","b":1,"n":1,"x":0.48,"y":0.255},{"p":"f","b":1,"n":1,"x":0.64,"y":0.21},{"p":"f","b":1,"n":1,"x":0.82,"y":0.11},{"p":"f","b":1,"n":1,"x":1,"y":0.065},{"p":"f","b":1,"n":1,"x":1.25,"y":0.12},{"p":"f","b":1,"n":1,"x":1.5,"y":0.22},{"p":"f","b":1,"n":1,"x":1.65,"y":0.25},{"p":"f","b":1,"n":1,"x":1.8,"y":0.255},{"p":"f","b":1,"n":1,"x":1.95,"y":0.22},{"p":"f","b":1,"n":1,"x":2.15,"y":0.13},{"p":"f","b":1,"n":1,"x":2.366,"y":0.065},
{"p":"f","b":2,"n":1,"x":0,"y":0.25},{"p":"f","b":2,"n":1,"x":2.366,"y":0.25},
{"p":"f","b":3,"n":2,"x":0,"y":0.223},{"p":"f","b":3,"n":2,"x":2.366,"y":0.223},
{"p":"f","b":4,"n":2,"x":0,"y":0.2},{"p":"f","b":4,"n":2,"x":0.16,"y":0.21},{"p":"f","b":4,"n":2,"x":0.32,"y":0.24},{"p":"f","b":4,"n":2,"x":0.48,"y":0.26},{"p":"f","b":4,"n":2,"x":0.64,"y":0.24},{"p":"f","b":4,"n":2,"x":0.82,"y":0.21},{"p":"f","b":4,"n":2,"x":1,"y":0.2},{"p":"f","b":4,"n":2,"x":1.25,"y":0.215},{"p":"f","b":4,"n":2,"x":1.5,"y":0.24},{"p":"f","b":4,"n":2,"x":1.65,"y":0.26},{"p":"f","b":4,"n":2,"x":1.8,"y":0.27},{"p":"f","b":4,"n":2,"x":1.95,"y":0.255},{"p":"f","b":4,"n":2,"x":2.15,"y":0.22},{"p":"f","b":4,"n":2,"x":2.366,"y":0.2},
{"p":"f","b":5,"n":1,"x":0,"y":0.21},{"p":"f","b":5,"n":1,"x":0.16,"y":0.225},{"p":"f","b":5,"n":1,"x":0.32,"y":0.27},{"p":"f","b":5,"n":1,"x":0.48,"y":0.295},{"p":"f","b":5,"n":1,"x":0.64,"y":0.27},{"p":"f","b":5,"n":1,"x":0.82,"y":0.225},{"p":"f","b":5,"n":1,"x":1,"y":0.21},{"p":"f","b":5,"n":1,"x":1.25,"y":0.23},{"p":"f","b":5,"n":1,"x":1.5,"y":0.27},{"p":"f","b":5,"n":1,"x":1.65,"y":0.29},{"p":"f","b":5,"n":1,"x":1.8,"y":0.3},{"p":"f","b":5,"n":1,"x":1.95,"y":0.28},{"p":"f","b":5,"n":1,"x":2.15,"y":0.23},{"p":"f","b":5,"n":1,"x":2.366,"y":0.21},
{"p":"f","b":6,"n":3,"x":0,"y":0.275},{"p":"f","b":6,"n":3,"x":0.16,"y":0.29},{"p":"f","b":6,"n":3,"x":0.32,"y":0.335},{"p":"f","b":6,"n":3,"x":0.48,"y":0.36},{"p":"f","b":6,"n":3,"x":0.64,"y":0.34},{"p":"f","b":6,"n":3,"x":0.82,"y":0.295},{"p":"f","b":6,"n":3,"x":1,"y":0.275},{"p":"f","b":6,"n":3,"x":1.25,"y":0.3},{"p":"f","b":6,"n":3,"x":1.5,"y":0.33},{"p":"f","b":6,"n":3,"x":1.65,"y":0.37},{"p":"f","b":6,"n":3,"x":1.8,"y":0.41},{"p":"f","b":6,"n":3,"x":1.95,"y":0.435},{"p":"f","b":6,"n":3,"x":2.15,"y":0.39},{"p":"f","b":6,"n":3,"x":2.366,"y":0.37},
{"p":"f","b":7,"n":3,"x":0,"y":0.37},{"p":"f","b":7,"n":3,"x":0.16,"y":0.385},{"p":"f","b":7,"n":3,"x":0.32,"y":0.42},{"p":"f","b":7,"n":3,"x":0.48,"y":0.44},{"p":"f","b":7,"n":3,"x":0.64,"y":0.425},{"p":"f","b":7,"n":3,"x":0.82,"y":0.385},{"p":"f","b":7,"n":3,"x":1,"y":0.37},{"p":"f","b":7,"n":3,"x":1.25,"y":0.4},{"p":"f","b":7,"n":3,"x":1.5,"y":0.44},{"p":"f","b":7,"n":3,"x":1.65,"y":0.43},{"p":"f","b":7,"n":3,"x":1.8,"y":0.39},{"p":"f","b":7,"n":3,"x":1.95,"y":0.34},{"p":"f","b":7,"n":3,"x":2.15,"y":0.295},{"p":"f","b":7,"n":3,"x":2.366,"y":0.275},
{"p":"f","b":8,"n":1,"x":0,"y":0.37},{"p":"f","b":8,"n":1,"x":0.16,"y":0.39},{"p":"f","b":8,"n":1,"x":0.32,"y":0.41},{"p":"f","b":8,"n":1,"x":0.48,"y":0.4},{"p":"f","b":8,"n":1,"x":0.64,"y":0.41},{"p":"f","b":8,"n":1,"x":0.82,"y":0.39},{"p":"f","b":8,"n":1,"x":1,"y":0.37},{"p":"f","b":8,"n":1,"x":1.25,"y":0.395},{"p":"f","b":8,"n":1,"x":1.5,"y":0.42},{"p":"f","b":8,"n":1,"x":1.65,"y":0.41},{"p":"f","b":8,"n":1,"x":1.8,"y":0.385},{"p":"f","b":8,"n":1,"x":1.95,"y":0.37},{"p":"f","b":8,"n":1,"x":2.15,"y":0.365},{"p":"f","b":8,"n":1,"x":2.366,"y":0.37},

{"p":"g","b":0,"x":0,"y":0.41},{"p":"g","b":0,"x":0.16,"y":0.427},{"p":"g","b":0,"x":0.32,"y":0.41},{"p":"g","b":0,"x":0.48,"y":0.395},{"p":"g","b":0,"x":0.64,"y":0.378},{"p":"g","b":0,"x":0.82,"y":0.362},{"p":"g","b":0,"x":1,"y":0.36},{"p":"g","b":0,"x":1.25,"y":0.378},{"p":"g","b":0,"x":1.5,"y":0.362},{"p":"g","b":0,"x":1.65,"y":0.37},{"p":"g","b":0,"x":1.8,"y":0.385},{"p":"g","b":0,"x":1.95,"y":0.405},{"p":"g","b":0,"x":2.15,"y":0.427},{"p":"g","b":0,"x":2.366,"y":0.405},
{"p":"g","b":1,"n":1,"x":0,"y":0.032},{"p":"g","b":1,"n":1,"x":0.16,"y":0.035},{"p":"g","b":1,"n":1,"x":0.32,"y":0.042},{"p":"g","b":1,"n":1,"x":0.48,"y":0.052},{"p":"g","b":1,"n":1,"x":0.64,"y":0.066},{"p":"g","b":1,"n":1,"x":0.82,"y":0.085},{"p":"g","b":1,"n":1,"x":1,"y":0.1},{"p":"g","b":1,"n":1,"x":1.25,"y":0.1},{"p":"g","b":1,"n":1,"x":1.5,"y":0.095},{"p":"g","b":1,"n":1,"x":1.65,"y":0.085},{"p":"g","b":1,"n":1,"x":1.8,"y":0.07},{"p":"g","b":1,"n":1,"x":1.95,"y":0.055},{"p":"g","b":1,"n":1,"x":2.15,"y":0.04},{"p":"g","b":1,"n":1,"x":2.366,"y":0.032},
{"p":"g","b":2,"n":2,"x":0,"y":0.093},{"p":"g","b":2,"n":2,"x":2.366,"y":0.093},
{"p":"g","b":3,"n":1,"x":0,"y":0.3},{"p":"g","b":3,"n":1,"x":0.16,"y":0.27},{"p":"g","b":3,"n":1,"x":0.32,"y":0.22},{"p":"g","b":3,"n":1,"x":0.48,"y":0.17},{"p":"g","b":3,"n":1,"x":0.64,"y":0.12},{"p":"g","b":3,"n":1,"x":0.82,"y":0.085},{"p":"g","b":3,"n":1,"x":1,"y":0.07},{"p":"g","b":3,"n":1,"x":1.25,"y":0.08},{"p":"g","b":3,"n":1,"x":1.5,"y":0.1},{"p":"g","b":3,"n":1,"x":1.65,"y":0.12},{"p":"g","b":3,"n":1,"x":1.8,"y":0.15},{"p":"g","b":3,"n":1,"x":1.95,"y":0.19},{"p":"g","b":3,"n":1,"x":2.15,"y":0.25},{"p":"g","b":3,"n":1,"x":2.366,"y":0.3},
{"p":"g","b":4,"n":2,"x":0,"y":0.33},{"p":"g","b":4,"n":2,"x":0.16,"y":0.3},{"p":"g","b":4,"n":2,"x":0.32,"y":0.26},{"p":"g","b":4,"n":2,"x":0.48,"y":0.21},{"p":"g","b":4,"n":2,"x":0.64,"y":0.17},{"p":"g","b":4,"n":2,"x":0.82,"y":0.14},{"p":"g","b":4,"n":2,"x":1,"y":0.13},{"p":"g","b":4,"n":2,"x":1.25,"y":0.135},{"p":"g","b":4,"n":2,"x":1.5,"y":0.15},{"p":"g","b":4,"n":2,"x":1.65,"y":0.17},{"p":"g","b":4,"n":2,"x":1.8,"y":0.2},{"p":"g","b":4,"n":2,"x":1.95,"y":0.24},{"p":"g","b":4,"n":2,"x":2.15,"y":0.29},{"p":"g","b":4,"n":2,"x":2.366,"y":0.33},
{"p":"g","b":5,"n":1,"x":0,"y":0.36},{"p":"g","b":5,"n":1,"x":0.16,"y":0.34},{"p":"g","b":5,"n":1,"x":0.32,"y":0.3},{"p":"g","b":5,"n":1,"x":0.48,"y":0.26},{"p":"g","b":5,"n":1,"x":0.64,"y":0.215},{"p":"g","b":5,"n":1,"x":0.82,"y":0.18},{"p":"g","b":5,"n":1,"x":1,"y":0.165},{"p":"g","b":5,"n":1,"x":1.25,"y":0.17},{"p":"g","b":5,"n":1,"x":1.5,"y":0.19},{"p":"g","b":5,"n":1,"x":1.65,"y":0.215},{"p":"g","b":5,"n":1,"x":1.8,"y":0.245},{"p":"g","b":5,"n":1,"x":1.95,"y":0.28},{"p":"g","b":5,"n":1,"x":2.15,"y":0.33},{"p":"g","b":5,"n":1,"x":2.366,"y":0.36},
{"p":"g","b":6,"n":2,"x":0,"y":0.38},{"p":"g","b":6,"n":2,"x":0.16,"y":0.37},{"p":"g","b":6,"n":2,"x":0.32,"y":0.35},{"p":"g","b":6,"n":2,"x":0.48,"y":0.32},{"p":"g","b":6,"n":2,"x":0.64,"y":0.29},{"p":"g","b":6,"n":2,"x":0.82,"y":0.26},{"p":"g","b":6,"n":2,"x":1,"y":0.245},{"p":"g","b":6,"n":2,"x":1.25,"y":0.25},{"p":"g","b":6,"n":2,"x":1.5,"y":0.26},{"p":"g","b":6,"n":2,"x":1.65,"y":0.275},{"p":"g","b":6,"n":2,"x":1.8,"y":0.295},{"p":"g","b":6,"n":2,"x":1.95,"y":0.32},{"p":"g","b":6,"n":2,"x":2.15,"y":0.35},{"p":"g","b":6,"n":2,"x":2.366,"y":0.38},
{"p":"g","b":7,"n":1,"x":0,"y":0.29},{"p":"g","b":7,"n":1,"x":0.16,"y":0.3},{"p":"g","b":7,"n":1,"x":0.32,"y":0.31},{"p":"g","b":7,"n":1,"x":0.48,"y":0.3},{"p":"g","b":7,"n":1,"x":0.64,"y":0.29},{"p":"g","b":7,"n":1,"x":0.82,"y":0.28},{"p":"g","b":7,"n":1,"x":1,"y":0.28},{"p":"g","b":7,"n":1,"x":1.25,"y":0.375},{"p":"g","b":7,"n":1,"x":1.5,"y":0.235},{"p":"g","b":7,"n":1,"x":1.65,"y":0.21},{"p":"g","b":7,"n":1,"x":1.8,"y":0.19},{"p":"g","b":7,"n":1,"x":1.95,"y":0.16},{"p":"g","b":7,"n":1,"x":2.15,"y":0.12},{"p":"g","b":7,"n":1,"x":2.366,"y":0.093},
{"p":"g","b":8,"n":1,"x":0,"y":0.4},{"p":"g","b":8,"n":1,"x":0.16,"y":0.425},{"p":"g","b":8,"n":1,"x":0.32,"y":0.41},{"p":"g","b":8,"n":1,"x":0.48,"y":0.39},{"p":"g","b":8,"n":1,"x":0.64,"y":0.37},{"p":"g","b":8,"n":1,"x":0.82,"y":0.355},{"p":"g","b":8,"n":1,"x":1,"y":0.36},{"p":"g","b":8,"n":1,"x":1.25,"y":0.345},{"p":"g","b":8,"n":1,"x":1.5,"y":0.355},{"p":"g","b":8,"n":1,"x":1.65,"y":0.36},{"p":"g","b":8,"n":1,"x":1.8,"y":0.37},{"p":"g","b":8,"n":1,"x":1.95,"y":0.38},{"p":"g","b":8,"n":1,"x":2.15,"y":0.425},{"p":"g","b":8,"n":1,"x":2.366,"y":0.405},
{"p":"g","b":9,"n":2,"x":0,"y":0.36},{"p":"g","b":9,"n":2,"x":0.16,"y":0.38},{"p":"g","b":9,"n":2,"x":0.32,"y":0.37},{"p":"g","b":9,"n":2,"x":0.48,"y":0.36},{"p":"g","b":9,"n":2,"x":0.64,"y":0.345},{"p":"g","b":9,"n":2,"x":0.82,"y":0.33},{"p":"g","b":9,"n":2,"x":1,"y":0.32},{"p":"g","b":9,"n":2,"x":1.25,"y":0.33},{"p":"g","b":9,"n":2,"x":1.5,"y":0.36},{"p":"g","b":9,"n":2,"x":1.65,"y":0.37},{"p":"g","b":9,"n":2,"x":1.8,"y":0.385},{"p":"g","b":9,"n":2,"x":1.95,"y":0.4},{"p":"g","b":9,"n":2,"x":2.15,"y":0.4},{"p":"g","b":9,"n":2,"x":2.366,"y":0.37},

{"p":"h","b":0,"x":0,"y":0.43},{"p":"h","b":0,"x":0.16,"y":0.44},{"p":"h","b":0,"x":0.32,"y":0.435},{"p":"h","b":0,"x":0.48,"y":0.43},{"p":"h","b":0,"x":0.64,"y":0.425},{"p":"h","b":0,"x":0.82,"y":0.42},{"p":"h","b":0,"x":1,"y":0.42},{"p":"h","b":0,"x":1.25,"y":0.435},{"p":"h","b":0,"x":1.5,"y":0.425},{"p":"h","b":0,"x":1.65,"y":0.42},{"p":"h","b":0,"x":1.8,"y":0.425},{"p":"h","b":0,"x":1.95,"y":0.43},{"p":"h","b":0,"x":2.15,"y":0.44},{"p":"h","b":0,"x":2.366,"y":0.43},
{"p":"h","b":1,"n":1,"x":0,"y":0.045},{"p":"h","b":1,"n":1,"x":0.16,"y":0.055},{"p":"h","b":1,"n":1,"x":0.32,"y":0.08},{"p":"h","b":1,"n":1,"x":0.48,"y":0.11},{"p":"h","b":1,"n":1,"x":0.64,"y":0.14},{"p":"h","b":1,"n":1,"x":0.82,"y":0.165},{"p":"h","b":1,"n":1,"x":1,"y":0.175},{"p":"h","b":1,"n":1,"x":1.25,"y":0.165},{"p":"h","b":1,"n":1,"x":1.5,"y":0.15},{"p":"h","b":1,"n":1,"x":1.65,"y":0.13},{"p":"h","b":1,"n":1,"x":1.8,"y":0.1},{"p":"h","b":1,"n":1,"x":1.95,"y":0.075},{"p":"h","b":1,"n":1,"x":2.15,"y":0.055},{"p":"h","b":1,"n":1,"x":2.366,"y":0.045},
{"p":"h","b":2,"n":1,"x":0,"y":0.145},{"p":"h","b":2,"n":1,"x":0.16,"y":0.147},{"p":"h","b":2,"n":1,"x":0.32,"y":0.152},{"p":"h","b":2,"n":1,"x":0.48,"y":0.16},{"p":"h","b":2,"n":1,"x":0.64,"y":0.167},{"p":"h","b":2,"n":1,"x":0.82,"y":0.172},{"p":"h","b":2,"n":1,"x":1,"y":0.175},{"p":"h","b":2,"n":1,"x":1.25,"y":0.185},{"p":"h","b":2,"n":1,"x":1.5,"y":0.19},{"p":"h","b":2,"n":1,"x":1.65,"y":0.19},{"p":"h","b":2,"n":1,"x":1.8,"y":0.183},{"p":"h","b":2,"n":1,"x":1.95,"y":0.17},{"p":"h","b":2,"n":1,"x":2.15,"y":0.152},{"p":"h","b":2,"n":1,"x":2.366,"y":0.145},
{"p":"h","b":3,"n":1,"x":0,"y":0.145},{"p":"h","b":3,"n":1,"x":0.16,"y":0.155},{"p":"h","b":3,"n":1,"x":0.32,"y":0.17},{"p":"h","b":3,"n":1,"x":0.48,"y":0.18},{"p":"h","b":3,"n":1,"x":0.64,"y":0.185},{"p":"h","b":3,"n":1,"x":0.82,"y":0.18},{"p":"h","b":3,"n":1,"x":1,"y":0.175},{"p":"h","b":3,"n":1,"x":1.25,"y":0.17},{"p":"h","b":3,"n":1,"x":1.5,"y":0.16},{"p":"h","b":3,"n":1,"x":1.65,"y":0.157},{"p":"h","b":3,"n":1,"x":1.8,"y":0.153},{"p":"h","b":3,"n":1,"x":1.95,"y":0.15},{"p":"h","b":3,"n":1,"x":2.15,"y":0.147},{"p":"h","b":3,"n":1,"x":2.366,"y":0.145},
{"p":"h","b":4,"n":1,"x":0,"y":0.27},{"p":"h","b":4,"n":1,"x":2.366,"y":0.27},
{"p":"h","b":5,"n":1,"x":0,"y":0.41},{"p":"h","b":5,"n":1,"x":0.16,"y":0.39},{"p":"h","b":5,"n":1,"x":0.32,"y":0.36},{"p":"h","b":5,"n":1,"x":0.48,"y":0.33},{"p":"h","b":5,"n":1,"x":0.64,"y":0.3},{"p":"h","b":5,"n":1,"x":0.82,"y":0.28},{"p":"h","b":5,"n":1,"x":1,"y":0.27},{"p":"h","b":5,"n":1,"x":1.25,"y":0.295},{"p":"h","b":5,"n":1,"x":1.5,"y":0.325},{"p":"h","b":5,"n":1,"x":1.65,"y":0.34},{"p":"h","b":5,"n":1,"x":1.8,"y":0.355},{"p":"h","b":5,"n":1,"x":1.95,"y":0.37},{"p":"h","b":5,"n":1,"x":2.15,"y":0.39},{"p":"h","b":5,"n":1,"x":2.366,"y":0.41},
{"p":"h","b":6,"n":3,"x":0,"y":0.35},{"p":"h","b":6,"n":3,"x":2.366,"y":0.35},
{"p":"h","b":7,"n":2,"x":0,"y":0.43},{"p":"h","b":7,"n":2,"x":0.16,"y":0.435},{"p":"h","b":7,"n":2,"x":0.32,"y":0.43},{"p":"h","b":7,"n":2,"x":0.48,"y":0.425},{"p":"h","b":7,"n":2,"x":0.64,"y":0.42},{"p":"h","b":7,"n":2,"x":0.82,"y":0.415},{"p":"h","b":7,"n":2,"x":1,"y":0.41},{"p":"h","b":7,"n":2,"x":1.25,"y":0.425},{"p":"h","b":7,"n":2,"x":1.5,"y":0.42},{"p":"h","b":7,"n":2,"x":1.65,"y":0.42},{"p":"h","b":7,"n":2,"x":1.8,"y":0.422},{"p":"h","b":7,"n":2,"x":1.95,"y":0.428},{"p":"h","b":7,"n":2,"x":2.15,"y":0.435},{"p":"h","b":7,"n":2,"x":2.366,"y":0.43},
{"p":"h","b":8,"n":1,"x":0,"y":0.42},{"p":"h","b":8,"n":1,"x":0.16,"y":0.4},{"p":"h","b":8,"n":1,"x":0.32,"y":0.38},{"p":"h","b":8,"n":1,"x":0.48,"y":0.37},{"p":"h","b":8,"n":1,"x":0.64,"y":0.37},{"p":"h","b":8,"n":1,"x":0.82,"y":0.385},{"p":"h","b":8,"n":1,"x":1,"y":0.405},{"p":"h","b":8,"n":1,"x":1.25,"y":0.41},{"p":"h","b":8,"n":1,"x":1.5,"y":0.4},{"p":"h","b":8,"n":1,"x":1.65,"y":0.395},{"p":"h","b":8,"n":1,"x":1.8,"y":0.395},{"p":"h","b":8,"n":1,"x":1.95,"y":0.4},{"p":"h","b":8,"n":1,"x":2.15,"y":0.41},{"p":"h","b":8,"n":1,"x":2.366,"y":0.42},
{"p":"h","b":9,"n":1,"x":0,"y":0.42},{"p":"h","b":9,"n":1,"x":0.16,"y":0.41},{"p":"h","b":9,"n":1,"x":0.32,"y":0.395},{"p":"h","b":9,"n":1,"x":0.48,"y":0.38},{"p":"h","b":9,"n":1,"x":0.64,"y":0.365},{"p":"h","b":9,"n":1,"x":0.82,"y":0.355},{"p":"h","b":9,"n":1,"x":1,"y":0.35},{"p":"h","b":9,"n":1,"x":1.25,"y":0.37},{"p":"h","b":9,"n":1,"x":1.5,"y":0.39},{"p":"h","b":9,"n":1,"x":1.65,"y":0.4},{"p":"h","b":9,"n":1,"x":1.8,"y":0.405},{"p":"h","b":9,"n":1,"x":1.95,"y":0.41},{"p":"h","b":9,"n":1,"x":2.15,"y":0.415},{"p":"h","b":9,"n":1,"x":2.366,"y":0.42},

{"p":"a","k":"t","s":"Γ = −0.03,\u2002Γ′ = 0","x":0.144,"y":0.595},
{"p":"b","k":"t","s":"Γ = 0.05,\u2002Γ′ = 0","x":0.23,"y":0.595},
{"p":"c","k":"t","s":"Γ = 0,\u2002Γ′ = −0.12","x":0.106,"y":0.595},
{"p":"d","k":"t","s":"Γ = 0,\u2002Γ′ = 0.16","x":0.21,"y":0.595},
{"p":"e","k":"t","s":"Γ = −0.4,\u2002Γ′ = 0","x":0.165,"y":0.595},
{"p":"f","k":"t","s":"Γ = 0.25,\u2002Γ′ = 0","x":0.148,"y":0.595},
{"p":"g","k":"t","s":"Γ = 0,\u2002Γ′ = −0.12","x":0.12,"y":0.595},
{"p":"h","k":"t","s":"Γ = 0,\u2002Γ′ = 0.08","x":0.21,"y":0.595},
{"p":"a","k":"l","s":"(a)","x":-0.65,"y":0.683},
{"p":"b","k":"l","s":"(b)","x":-0.65,"y":0.683},
{"p":"c","k":"l","s":"(c)","x":-0.65,"y":0.683},
{"p":"d","k":"l","s":"(d)","x":-0.65,"y":0.683},
{"p":"e","k":"l","s":"(e)","x":-0.65,"y":0.683},
{"p":"f","k":"l","s":"(f)","x":-0.65,"y":0.683},
{"p":"g","k":"l","s":"(g)","x":-0.65,"y":0.683},
{"p":"h","k":"l","s":"(h)","x":-0.65,"y":0.683}
]},
"concat":[
{"transform":[{"filter":"datum.p==='a'"}],"width":191,"height":137,
 "encoding":{"x":{"field":"x","type":"quantitative","scale":{"domain":[-0.02,2.386],"nice":false,"zero":false},"axis":{"title":null,"values":[0,1,1.5,2.366],"labelExpr":"datum.value==1?'K':(datum.value==1.5?'M':'Γ')"}},"y":{"field":"y","type":"quantitative","scale":{"domain":[-0.009,0.709],"nice":false,"zero":false},"axis":{"title":"Eₖ","values":[0,0.1,0.2,0.3,0.4,0.5,0.6,0.7],"format":".1f"}}},
 "layer":[
  {"transform":[{"filter":"datum.b===0"}],"mark":{"type":"area","color":"#c8c8c8","interpolate":"monotone","clip":true},"encoding":{"y2":{"datum":0.709}}},
  {"transform":[{"filter":"datum.b>0"}],"mark":{"type":"line","color":"#000000","interpolate":"monotone","clip":true},"encoding":{"detail":{"field":"b","type":"nominal"},"strokeWidth":{"field":"n","type":"quantitative","scale":{"domain":[1,3],"range":[1.7,4.2]},"legend":null}}},
  {"transform":[{"filter":"datum.k==='t'"}],"mark":{"type":"text","align":"left","baseline":"middle","fontSize":16,"color":"#000"},"encoding":{"text":{"field":"s"}}},
  {"transform":[{"filter":"datum.k==='l'"}],"mark":{"type":"text","align":"left","baseline":"middle","fontSize":17,"color":"#000"},"encoding":{"text":{"field":"s"}}}]},
{"transform":[{"filter":"datum.p==='b'"}],"width":191,"height":137,
 "encoding":{"x":{"field":"x","type":"quantitative","scale":{"domain":[-0.02,2.386],"nice":false,"zero":false},"axis":{"title":null,"values":[0,1,1.5,2.366],"labelExpr":"datum.value==1?'K':(datum.value==1.5?'M':'Γ')"}},"y":{"field":"y","type":"quantitative","scale":{"domain":[-0.009,0.709],"nice":false,"zero":false},"axis":{"title":"Eₖ","values":[0,0.1,0.2,0.3,0.4,0.5,0.6,0.7],"format":".1f"}}},
 "layer":[
  {"transform":[{"filter":"datum.b===0"}],"mark":{"type":"area","color":"#c8c8c8","interpolate":"monotone","clip":true},"encoding":{"y2":{"datum":0.709}}},
  {"transform":[{"filter":"datum.b>0"}],"mark":{"type":"line","color":"#000000","interpolate":"monotone","clip":true},"encoding":{"detail":{"field":"b","type":"nominal"},"strokeWidth":{"field":"n","type":"quantitative","scale":{"domain":[1,3],"range":[1.7,4.2]},"legend":null}}},
  {"transform":[{"filter":"datum.k==='t'"}],"mark":{"type":"text","align":"left","baseline":"middle","fontSize":16,"color":"#000"},"encoding":{"text":{"field":"s"}}},
  {"transform":[{"filter":"datum.k==='l'"}],"mark":{"type":"text","align":"left","baseline":"middle","fontSize":17,"color":"#000"},"encoding":{"text":{"field":"s"}}}]},
{"transform":[{"filter":"datum.p==='c'"}],"width":191,"height":137,
 "encoding":{"x":{"field":"x","type":"quantitative","scale":{"domain":[-0.02,2.386],"nice":false,"zero":false},"axis":{"title":null,"values":[0,1,1.5,2.366],"labelExpr":"datum.value==1?'K':(datum.value==1.5?'M':'Γ')"}},"y":{"field":"y","type":"quantitative","scale":{"domain":[-0.009,0.709],"nice":false,"zero":false},"axis":{"title":"Eₖ","values":[0,0.1,0.2,0.3,0.4,0.5,0.6,0.7],"format":".1f"}}},
 "layer":[
  {"transform":[{"filter":"datum.b===0"}],"mark":{"type":"area","color":"#c8c8c8","interpolate":"monotone","clip":true},"encoding":{"y2":{"datum":0.709}}},
  {"transform":[{"filter":"datum.b>0"}],"mark":{"type":"line","color":"#000000","interpolate":"monotone","clip":true},"encoding":{"detail":{"field":"b","type":"nominal"},"strokeWidth":{"field":"n","type":"quantitative","scale":{"domain":[1,3],"range":[1.7,4.2]},"legend":null}}},
  {"transform":[{"filter":"datum.k==='t'"}],"mark":{"type":"text","align":"left","baseline":"middle","fontSize":16,"color":"#000"},"encoding":{"text":{"field":"s"}}},
  {"transform":[{"filter":"datum.k==='l'"}],"mark":{"type":"text","align":"left","baseline":"middle","fontSize":17,"color":"#000"},"encoding":{"text":{"field":"s"}}}]},
{"transform":[{"filter":"datum.p==='d'"}],"width":191,"height":137,
 "encoding":{"x":{"field":"x","type":"quantitative","scale":{"domain":[-0.02,2.386],"nice":false,"zero":false},"axis":{"title":null,"values":[0,1,1.5,2.366],"labelExpr":"datum.value==1?'K':(datum.value==1.5?'M':'Γ')"}},"y":{"field":"y","type":"quantitative","scale":{"domain":[-0.009,0.709],"nice":false,"zero":false},"axis":{"title":"Eₖ","values":[0,0.1,0.2,0.3,0.4,0.5,0.6,0.7],"format":".1f"}}},
 "layer":[
  {"transform":[{"filter":"datum.b===0"}],"mark":{"type":"area","color":"#c8c8c8","interpolate":"monotone","clip":true},"encoding":{"y2":{"datum":0.709}}},
  {"transform":[{"filter":"datum.b>0"}],"mark":{"type":"line","color":"#000000","interpolate":"monotone","clip":true},"encoding":{"detail":{"field":"b","type":"nominal"},"strokeWidth":{"field":"n","type":"quantitative","scale":{"domain":[1,3],"range":[1.7,4.2]},"legend":null}}},
  {"transform":[{"filter":"datum.k==='t'"}],"mark":{"type":"text","align":"left","baseline":"middle","fontSize":16,"color":"#000"},"encoding":{"text":{"field":"s"}}},
  {"transform":[{"filter":"datum.k==='l'"}],"mark":{"type":"text","align":"left","baseline":"middle","fontSize":17,"color":"#000"},"encoding":{"text":{"field":"s"}}}]},
{"transform":[{"filter":"datum.p==='e'"}],"width":191,"height":137,
 "encoding":{"x":{"field":"x","type":"quantitative","scale":{"domain":[-0.02,2.386],"nice":false,"zero":false},"axis":{"title":null,"values":[0,1,1.5,2.366],"labelExpr":"datum.value==1?'K':(datum.value==1.5?'M':'Γ')"}},"y":{"field":"y","type":"quantitative","scale":{"domain":[-0.009,0.709],"nice":false,"zero":false},"axis":{"title":"Eₖ","values":[0,0.1,0.2,0.3,0.4,0.5,0.6,0.7],"format":".1f"}}},
 "layer":[
  {"transform":[{"filter":"datum.b===0"}],"mark":{"type":"area","color":"#c8c8c8","interpolate":"monotone","clip":true},"encoding":{"y2":{"datum":0.709}}},
  {"transform":[{"filter":"datum.b>0"}],"mark":{"type":"line","color":"#000000","interpolate":"monotone","clip":true},"encoding":{"detail":{"field":"b","type":"nominal"},"strokeWidth":{"field":"n","type":"quantitative","scale":{"domain":[1,3],"range":[1.7,4.2]},"legend":null}}},
  {"transform":[{"filter":"datum.k==='t'"}],"mark":{"type":"text","align":"left","baseline":"middle","fontSize":16,"color":"#000"},"encoding":{"text":{"field":"s"}}},
  {"transform":[{"filter":"datum.k==='l'"}],"mark":{"type":"text","align":"left","baseline":"middle","fontSize":17,"color":"#000"},"encoding":{"text":{"field":"s"}}}]},
{"transform":[{"filter":"datum.p==='f'"}],"width":191,"height":137,
 "encoding":{"x":{"field":"x","type":"quantitative","scale":{"domain":[-0.02,2.386],"nice":false,"zero":false},"axis":{"title":null,"values":[0,1,1.5,2.366],"labelExpr":"datum.value==1?'K':(datum.value==1.5?'M':'Γ')"}},"y":{"field":"y","type":"quantitative","scale":{"domain":[-0.009,0.709],"nice":false,"zero":false},"axis":{"title":"Eₖ","values":[0,0.1,0.2,0.3,0.4,0.5,0.6,0.7],"format":".1f"}}},
 "layer":[
  {"transform":[{"filter":"datum.b===0"}],"mark":{"type":"area","color":"#c8c8c8","interpolate":"monotone","clip":true},"encoding":{"y2":{"datum":0.709}}},
  {"transform":[{"filter":"datum.b>0"}],"mark":{"type":"line","color":"#000000","interpolate":"monotone","clip":true},"encoding":{"detail":{"field":"b","type":"nominal"},"strokeWidth":{"field":"n","type":"quantitative","scale":{"domain":[1,3],"range":[1.7,4.2]},"legend":null}}},
  {"transform":[{"filter":"datum.k==='t'"}],"mark":{"type":"text","align":"left","baseline":"middle","fontSize":16,"color":"#000"},"encoding":{"text":{"field":"s"}}},
  {"transform":[{"filter":"datum.k==='l'"}],"mark":{"type":"text","align":"left","baseline":"middle","fontSize":17,"color":"#000"},"encoding":{"text":{"field":"s"}}}]},
{"transform":[{"filter":"datum.p==='g'"}],"width":191,"height":137,
 "encoding":{"x":{"field":"x","type":"quantitative","scale":{"domain":[-0.02,2.386],"nice":false,"zero":false},"axis":{"title":null,"values":[0,1,1.5,2.366],"labelExpr":"datum.value==1?'K':(datum.value==1.5?'M':'Γ')"}},"y":{"field":"y","type":"quantitative","scale":{"domain":[-0.009,0.709],"nice":false,"zero":false},"axis":{"title":"Eₖ","values":[0,0.1,0.2,0.3,0.4,0.5,0.6,0.7],"format":".1f"}}},
 "layer":[
  {"transform":[{"filter":"datum.b===0"}],"mark":{"type":"area","color":"#c8c8c8","interpolate":"monotone","clip":true},"encoding":{"y2":{"datum":0.709}}},
  {"transform":[{"filter":"datum.b>0"}],"mark":{"type":"line","color":"#000000","interpolate":"monotone","clip":true},"encoding":{"detail":{"field":"b","type":"nominal"},"strokeWidth":{"field":"n","type":"quantitative","scale":{"domain":[1,3],"range":[1.7,4.2]},"legend":null}}},
  {"transform":[{"filter":"datum.k==='t'"}],"mark":{"type":"text","align":"left","baseline":"middle","fontSize":16,"color":"#000"},"encoding":{"text":{"field":"s"}}},
  {"transform":[{"filter":"datum.k==='l'"}],"mark":{"type":"text","align":"left","baseline":"middle","fontSize":17,"color":"#000"},"encoding":{"text":{"field":"s"}}}]},
{"transform":[{"filter":"datum.p==='h'"}],"width":191,"height":137,
 "encoding":{"x":{"field":"x","type":"quantitative","scale":{"domain":[-0.02,2.386],"nice":false,"zero":false},"axis":{"title":null,"values":[0,1,1.5,2.366],"labelExpr":"datum.value==1?'K':(datum.value==1.5?'M':'Γ')"}},"y":{"field":"y","type":"quantitative","scale":{"domain":[-0.009,0.709],"nice":false,"zero":false},"axis":{"title":"Eₖ","values":[0,0.1,0.2,0.3,0.4,0.5,0.6,0.7],"format":".1f"}}},
 "layer":[
  {"transform":[{"filter":"datum.b===0"}],"mark":{"type":"area","color":"#c8c8c8","interpolate":"monotone","clip":true},"encoding":{"y2":{"datum":0.709}}},
  {"transform":[{"filter":"datum.b>0"}],"mark":{"type":"line","color":"#000000","interpolate":"monotone","clip":true},"encoding":{"detail":{"field":"b","type":"nominal"},"strokeWidth":{"field":"n","type":"quantitative","scale":{"domain":[1,3],"range":[1.7,4.2]},"legend":null}}},
  {"transform":[{"filter":"datum.k==='t'"}],"mark":{"type":"text","align":"left","baseline":"middle","fontSize":16,"color":"#000"},"encoding":{"text":{"field":"s"}}},
  {"transform":[{"filter":"datum.k==='l'"}],"mark":{"type":"text","align":"left","baseline":"middle","fontSize":17,"color":"#000"},"encoding":{"text":{"field":"s"}}}]}
],
"config":{
 "view":{"stroke":"#222222","strokeWidth":1},
 "font":"Liberation Serif",
 "axis":{"labelFont":"Liberation Serif","titleFont":"Liberation Serif","labelColor":"#000","titleColor":"#000","tickColor":"#000","labelFlush":false,"labelOverlap":false,"domain":false},
 "axisX":{"ticks":false,"grid":true,"gridColor":"#000000","gridOpacity":0.22,"gridWidth":1.5,"zindex":1,"labelPadding":2,"labelFontSize":17},
 "axisY":{"grid":false,"tickSize":4,"labelPadding":2,"labelFontSize":17.5,"titleFontStyle":"italic","titleFontWeight":"normal","titleFontSize":17,"titlePadding":2}
}
}
